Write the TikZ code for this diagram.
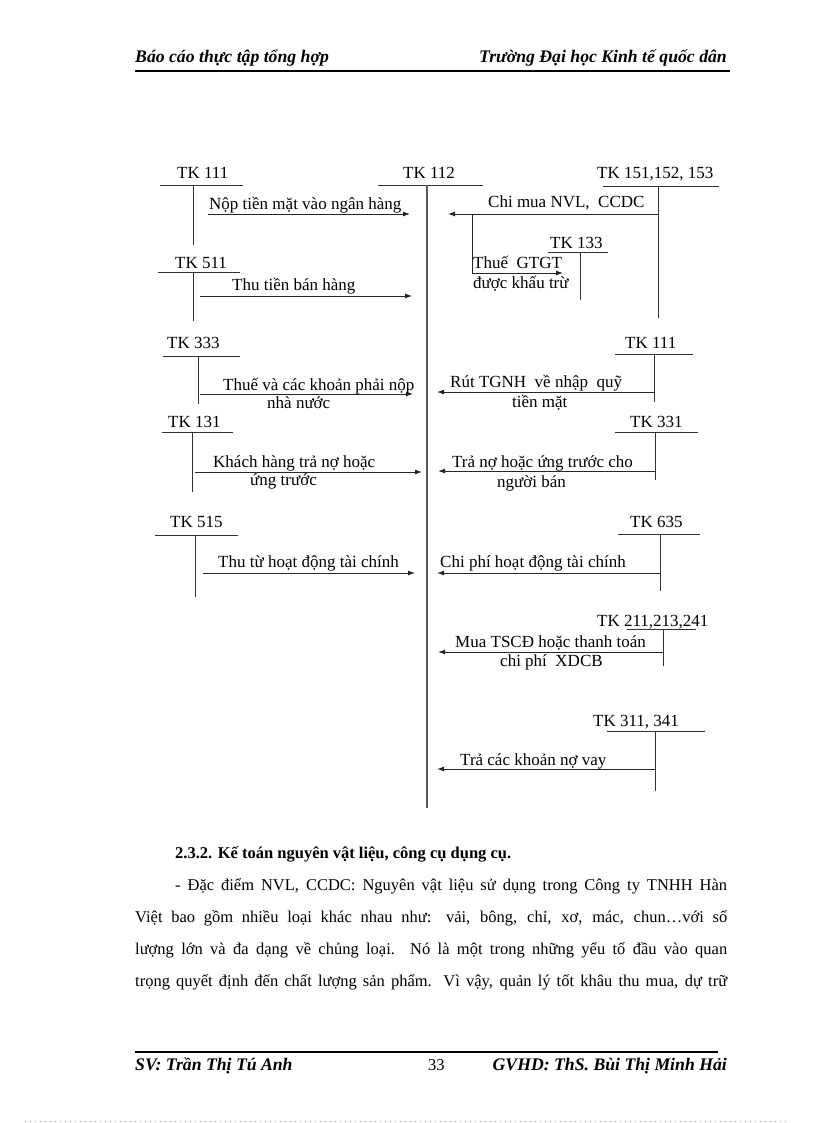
\documentclass[tikz,border=0pt]{standalone}
\usepackage{fontspec}
\setmainfont{Liberation Serif}
\usetikzlibrary{arrows.meta}
\begin{document}
\begin{tikzpicture}[x=1pt,y=-1pt,
  lbl/.style={anchor=base west,inner sep=0pt,font=\fontsize{17}{17}\selectfont},
  hdr/.style={anchor=base west,inner sep=0pt,font=\fontsize{17.7}{18}\selectfont\bfseries\itshape},
  body/.style={anchor=base west,inner sep=0pt,font=\fontsize{16.5}{17}\selectfont},
  tline/.style={line width=0.9pt,draw=black!80},
  mainline/.style={line width=1.8pt,draw=black!65},
  flow/.style={line width=0.9pt,draw=black!85,-{Latex[length=7pt,width=5pt]}},
  rule/.style={line width=2pt,draw=black}
]
\useasboundingbox (0,0) rectangle (816,1123);

% ---------- header / footer ----------
\node[hdr] (h1) at (135,63) {Báo cáo thực tập tổng hợp};
\node[hdr,anchor=base east] (h2) at (727,63) {Trường Đại học Kinh tế quốc dân};
\coordinate (hr1) at (135,71); \coordinate (hr2) at (730,71);
\draw[rule] (hr1) -- (hr2);

\coordinate (fr1) at (135,1052); \coordinate (fr2) at (718,1052);
\draw[rule] (fr1) -- (fr2);
\node[hdr] (f1) at (135,1070) {SV: Trần Thị Tú Anh};
\node[body] (f2) at (428,1070) {33};
\node[hdr,anchor=base east] (f3) at (727,1070) {GVHD: ThS. Bùi Thị Minh Hải};
\coordinate (d1) at (25,1121); \coordinate (d2) at (790,1121);
\draw[black!40,line width=0.6pt,dash pattern=on 0.8pt off 4.2pt] (d1) -- (d2);

% ---------- main account TK 112 ----------
\node[lbl] (t112) at (403,179) {TK 112};
\coordinate (m1) at (378,185); \coordinate (m2) at (483,185);
\coordinate (mtop) at (427,185); \coordinate (mbot) at (427,808);
\draw[tline] (m1) -- (m2);
\draw[mainline] (mtop) -- (mbot);

% ---------- left accounts ----------
% TK 111
\node[lbl] (l111) at (177,179) {TK 111};
\coordinate (l111a) at (160,185); \coordinate (l111b) at (243,185);
\coordinate (l111t) at (193,185); \coordinate (l111e) at (193,245);
\draw[tline] (l111a) -- (l111b); \draw[tline] (l111t) -- (l111e);
\coordinate (a1s) at (208,214); \coordinate (a1e) at (410,214);
\draw[flow] (a1s) -- (a1e);
\node[lbl] (x1) at (209,210) {Nộp tiền mặt vào ngân hàng};

% TK 511
\node[lbl] (l511) at (175,268) {TK 511};
\coordinate (l511a) at (158,272); \coordinate (l511b) at (240,272);
\coordinate (l511t) at (193,272); \coordinate (l511e) at (193,321);
\draw[tline] (l511a) -- (l511b); \draw[tline] (l511t) -- (l511e);
\coordinate (a2s) at (200,296); \coordinate (a2e) at (412,296);
\draw[flow] (a2s) -- (a2e);
\node[lbl] (x2) at (232,290) {Thu tiền bán hàng};

% TK 333
\node[lbl] (l333) at (167,348) {TK 333};
\coordinate (l333a) at (163,356); \coordinate (l333b) at (240,356);
\coordinate (l333t) at (198,356); \coordinate (l333e) at (198,404);
\draw[tline] (l333a) -- (l333b); \draw[tline] (l333t) -- (l333e);
\coordinate (a3s) at (200,394); \coordinate (a3e) at (413,394);
\draw[flow] (a3s) -- (a3e);
\node[lbl] (x3) at (223,390) {Thuế và các khoản phải nộp};
\node[lbl] (x3b) at (267,408) {nhà nước};

% TK 131
\node[lbl] (l131) at (168,427) {TK 131};
\coordinate (l131a) at (162,432); \coordinate (l131b) at (233,432);
\coordinate (l131t) at (192,432); \coordinate (l131e) at (192,492);
\draw[tline] (l131a) -- (l131b); \draw[tline] (l131t) -- (l131e);
\coordinate (a4s) at (195,472); \coordinate (a4e) at (422,472);
\draw[flow] (a4s) -- (a4e);
\node[lbl] (x4) at (213,467) {Khách hàng trả nợ hoặc};
\node[lbl] (x4b) at (250,485) {ứng trước};

% TK 515
\node[lbl] (l515) at (170,527) {TK 515};
\coordinate (l515a) at (155,535); \coordinate (l515b) at (238,535);
\coordinate (l515t) at (195,535); \coordinate (l515e) at (195,597);
\draw[tline] (l515a) -- (l515b); \draw[tline] (l515t) -- (l515e);
\coordinate (a5s) at (203,573); \coordinate (a5e) at (415,573);
\draw[flow] (a5s) -- (a5e);
\node[lbl] (x5) at (218,567) {Thu từ hoạt động tài chính};

% ---------- right accounts ----------
% TK 151,152,153
\node[lbl] (r151) at (597,179) {TK 151,152, 153};
\coordinate (r151a) at (603,186); \coordinate (r151b) at (719,186);
\coordinate (r151t) at (658,186); \coordinate (r151e) at (658,318);
\draw[tline] (r151a) -- (r151b); \draw[tline] (r151t) -- (r151e);
\coordinate (b1s) at (658,214); \coordinate (b1e) at (448,214);
\draw[flow] (b1s) -- (b1e);
\node[lbl] (y1) at (488,208) {Chi mua NVL,\ \ CCDC};
% branch to TK 133
\coordinate (br1) at (472,214); \coordinate (br2) at (472,273); \coordinate (br3) at (563,273);
\draw[flow] (br1) -- (br2) -- (br3);
\node[lbl] (r133) at (550,248) {TK 133};
\coordinate (r133a) at (548,252); \coordinate (r133b) at (608,252);
\coordinate (r133t) at (580,252); \coordinate (r133e) at (580,300);
\draw[tline] (r133a) -- (r133b); \draw[tline] (r133t) -- (r133e);
\node[lbl] (y2) at (473,268) {Thuế\ \ GTGT};
\node[lbl] (y2b) at (473,288) {được khấu trừ};

% TK 111 (right)
\node[lbl] (r111) at (625,348) {TK 111};
\coordinate (r111a) at (615,354); \coordinate (r111b) at (693,354);
\coordinate (r111t) at (654,354); \coordinate (r111e) at (654,402);
\draw[tline] (r111a) -- (r111b); \draw[tline] (r111t) -- (r111e);
\coordinate (b3s) at (654,392); \coordinate (b3e) at (437,392);
\draw[flow] (b3s) -- (b3e);
\node[lbl] (y3) at (450,387) {Rút TGNH\ \ về nhập\ \ quỹ};
\node[lbl] (y3b) at (512,407) {tiền mặt};

% TK 331
\node[lbl] (r331) at (630,427) {TK 331};
\coordinate (r331a) at (615,432); \coordinate (r331b) at (698,432);
\coordinate (r331t) at (655,432); \coordinate (r331e) at (655,480);
\draw[tline] (r331a) -- (r331b); \draw[tline] (r331t) -- (r331e);
\coordinate (b4s) at (655,471); \coordinate (b4e) at (438,471);
\draw[flow] (b4s) -- (b4e);
\node[lbl] (y4) at (452,467) {Trả nợ hoặc ứng trước cho};
\node[lbl] (y4b) at (497,487) {người bán};

% TK 635
\node[lbl] (r635) at (630,527) {TK 635};
\coordinate (r635a) at (618,534); \coordinate (r635b) at (700,534);
\coordinate (r635t) at (660,534); \coordinate (r635e) at (660,591);
\draw[tline] (r635a) -- (r635b); \draw[tline] (r635t) -- (r635e);
\coordinate (b5s) at (660,573); \coordinate (b5e) at (437,573);
\draw[flow] (b5s) -- (b5e);
\node[lbl] (y5) at (440,567) {Chi phí hoạt động tài chính};

% TK 211,213,241
\node[lbl] (r211) at (597,626) {TK 211,213,241};
\coordinate (r211a) at (627,629); \coordinate (r211b) at (696,629);
\coordinate (r211t) at (663,629); \coordinate (r211e) at (663,666);
\draw[tline] (r211a) -- (r211b); \draw[tline] (r211t) -- (r211e);
\coordinate (b6s) at (663,652); \coordinate (b6e) at (438,652);
\draw[flow] (b6s) -- (b6e);
\node[lbl] (y6) at (455,647) {Mua TSCĐ\ hoặc thanh toán};
\node[lbl] (y6b) at (500,666) {chi phí\ \ XDCB};

% TK 311,341
\node[lbl] (r311) at (593,726) {TK 311, 341};
\coordinate (r311a) at (607,731); \coordinate (r311b) at (705,731);
\coordinate (r311t) at (655,731); \coordinate (r311e) at (655,791);
\draw[tline] (r311a) -- (r311b); \draw[tline] (r311t) -- (r311e);
\coordinate (b7s) at (655,769); \coordinate (b7e) at (437,769);
\draw[flow] (b7s) -- (b7e);
\node[lbl] (y7) at (460,765) {Trả các khoản nợ vay};

% ---------- text below ----------
\node[body,font=\fontsize{16.5}{17}\selectfont\bfseries] (sec) at (175,858) {2.3.2. Kế toán nguyên vật liệu, công cụ dụng cụ.};
\node[body] (p1) at (175,890) {\makebox[552pt][s]{- Đặc điểm NVL, CCDC: Nguyên vật liệu sử dụng trong Công ty TNHH Hàn}};
\node[body] (p2) at (135,922) {\makebox[592pt][s]{Việt bao gồm nhiều loại khác nhau như: vải, bông, chỉ, xơ, mác, chun…với số}};
\node[body] (p3) at (135,954) {\makebox[592pt][s]{lượng lớn và đa dạng về chủng loại. Nó là một trong những yếu tố đầu vào quan}};
\node[body] (p4) at (135,986) {\makebox[592pt][s]{trọng quyết định đến chất lượng sản phẩm. Vì vậy, quản lý tốt khâu thu mua, dự trữ}};
\end{tikzpicture}
\end{document}
